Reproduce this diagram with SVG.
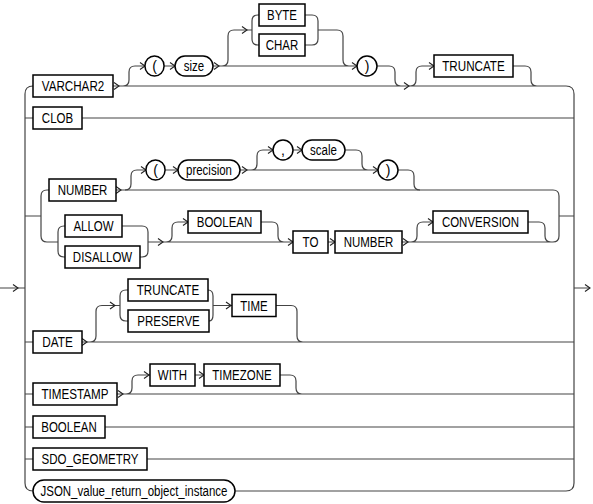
<svg xmlns="http://www.w3.org/2000/svg" xmlns:xlink="http://www.w3.org/1999/xlink" width="593" height="504" viewBox="0 0 593 504">
<style>
.box{fill:#fff;stroke:#000;stroke-width:1.5}
.t{font-family:"Liberation Sans",Arial,sans-serif;font-size:14px;text-anchor:middle;fill:#000}
.ln{fill:none;stroke:#444;stroke-width:1.2}
.ar{fill:none;stroke:#222;stroke-width:1.1}
</style>
<defs>
<path id="a" class="ar" d="M-5,-3.5 L0,0 L-5,3.5"/>
</defs>
<rect width="593" height="504" fill="#fff"/>
<g id="connectors">
<path class="ln" d="M33,86 Q25,86 25,94 V483 Q25,491 33,491 M25,118 H33 M25,216 H41 M25,342 H33 M25,394 H33 M25,427 H33 M25,459 H33 M0,288 H25"/>
<path class="ln" d="M566,86 Q574,86 574,94 V483 Q574,491 566,491 M574,288 H590"/>
<path class="ln" d="M113,86 H566 M123,86 Q129,86 129,80 V72 Q129,66 135,66 H145 M164,66 H175 M213,66 H357 M222,66 Q228,66 228,60 V36 Q228,30 234,30 H252 M259,15 H258 Q252,15 252,21 V39 Q252,45 258,45 H259 M305,15 H312 Q318,15 318,21 V39 Q318,45 312,45 H305 M318,30 H337 Q343,30 343,36 V60 Q343,66 349,66 H357 M377,66 H389 Q395,66 395,72 V80 Q395,86 401,86 M410,86 Q416,86 416,80 V72 Q416,66 422,66 H434 M513,66 H525 Q531,66 531,72 V80 Q531,86 537,86"/>
<path class="ln" d="M82,118 H574"/>
<path class="ln" d="M49,190 H47 Q41,190 41,196 V236 Q41,242 47,242 H58 M65,226 H64 Q58,226 58,232 V251 Q58,257 64,257 H65 M122,226 H142 Q148,226 148,232 V251 Q148,257 142,257 H140 M148,242 H293 M166,242 Q172,242 172,236 V228 Q172,222 178,222 H188 M261,222 H272 Q278,222 278,228 V236 Q278,242 284,242 M328,242 H335 M116,190 H553 Q559,190 559,196 V236 Q559,242 553,242 H402 M559,216 H574 M411,242 Q417,242 417,236 V228 Q417,222 423,222 H433 M528,222 H539 Q545,222 545,228 V236 Q545,242 551,242"/>
<path class="ln" d="M125,190 Q131,190 131,184 V176 Q131,170 137,170 H146 M165,170 H178 M240,170 H378 M251,170 Q257,170 257,164 V156 Q257,150 263,150 H273 M293,150 H302 M345,150 H356 Q362,150 362,156 V164 Q362,170 368,170 H378 M398,170 H408 Q414,170 414,176 V184 Q414,190 420,190"/>
<path class="ln" d="M82,342 H574 M90,342 Q96,342 96,336 V311.5 Q96,305.5 102,305.5 H120 M128,290 H126 Q120,290 120,296 V315 Q120,321 126,321 H128 M208,290 Q213,290 213,296 V315 Q213,321 209,321 M213,305.5 H232 M276,305.5 H291 Q297,305.5 297,311.5 V336 Q297,342 303,342"/>
<path class="ln" d="M117,394 H574 M126,394 Q132,394 132,388 V381 Q132,375 138,375 H150 M195,375 H204 M280,375 H290 Q296,375 296,381 V388 Q296,394 302,394"/>
<path class="ln" d="M105,427 H574 M147,459 H574 M235,491 H566"/>
<use xlink:href="#a" x="18" y="288"/>
<use xlink:href="#a" x="590" y="288"/>
<use xlink:href="#a" x="119" y="86"/>
<use xlink:href="#a" x="145" y="66"/>
<use xlink:href="#a" x="175" y="66"/>
<use xlink:href="#a" x="219" y="66"/>
<use xlink:href="#a" x="247" y="30"/>
<use xlink:href="#a" x="357" y="66"/>
<use xlink:href="#a" x="409" y="86"/>
<use xlink:href="#a" x="434" y="66"/>
<use xlink:href="#a" x="121" y="190"/>
<use xlink:href="#a" x="146" y="170"/>
<use xlink:href="#a" x="178" y="170"/>
<use xlink:href="#a" x="247" y="170"/>
<use xlink:href="#a" x="273" y="150"/>
<use xlink:href="#a" x="302" y="150"/>
<use xlink:href="#a" x="378" y="170"/>
<use xlink:href="#a" x="163" y="242"/>
<use xlink:href="#a" x="188" y="222"/>
<use xlink:href="#a" x="293" y="242"/>
<use xlink:href="#a" x="335" y="242"/>
<use xlink:href="#a" x="408" y="242"/>
<use xlink:href="#a" x="433" y="222"/>
<use xlink:href="#a" x="87" y="342"/>
<use xlink:href="#a" x="115" y="305.5"/>
<use xlink:href="#a" x="231" y="305.5"/>
<use xlink:href="#a" x="123" y="394"/>
<use xlink:href="#a" x="149" y="375"/>
<use xlink:href="#a" x="204" y="375"/>
</g>
<g id="n-varchar2"><rect class="box" x="33" y="75" width="80" height="22"/><text class="t" x="73" y="91" textLength="62.5" lengthAdjust="spacingAndGlyphs">VARCHAR2</text></g>
<g id="n-lparen1"><rect class="box" x="145" y="56" width="19" height="20" rx="9.5"/><text class="t" x="154.5" y="71">(</text></g>
<g id="n-size"><rect class="box" x="175" y="56" width="38" height="20" rx="10"/><text class="t" x="194" y="71" textLength="20.4" lengthAdjust="spacingAndGlyphs">size</text></g>
<g id="n-byte"><rect class="box" x="259" y="4" width="46" height="22"/><text class="t" x="282" y="20" textLength="30" lengthAdjust="spacingAndGlyphs">BYTE</text></g>
<g id="n-char"><rect class="box" x="259" y="34" width="46" height="22"/><text class="t" x="282" y="50" textLength="32.5" lengthAdjust="spacingAndGlyphs">CHAR</text></g>
<g id="n-rparen1"><rect class="box" x="357" y="56" width="20" height="20" rx="10"/><text class="t" x="367" y="71">)</text></g>
<g id="n-truncate1"><rect class="box" x="434" y="55" width="79" height="22"/><text class="t" x="473.5" y="71" textLength="62.5" lengthAdjust="spacingAndGlyphs">TRUNCATE</text></g>
<g id="n-clob"><rect class="box" x="33" y="107" width="49" height="22"/><text class="t" x="57.5" y="123" textLength="31.3" lengthAdjust="spacingAndGlyphs">CLOB</text></g>
<g id="n-number1"><rect class="box" x="49" y="179" width="67" height="22"/><text class="t" x="82.5" y="195" textLength="49.7" lengthAdjust="spacingAndGlyphs">NUMBER</text></g>
<g id="n-lparen2"><rect class="box" x="146" y="160" width="19" height="20" rx="9.5"/><text class="t" x="155.5" y="175">(</text></g>
<g id="n-precision"><rect class="box" x="178" y="160" width="62" height="20" rx="10"/><text class="t" x="209" y="175" textLength="45.9" lengthAdjust="spacingAndGlyphs">precision</text></g>
<g id="n-comma"><rect class="box" x="273" y="140" width="20" height="20" rx="10"/><text class="t" x="283" y="155">,</text></g>
<g id="n-scale"><rect class="box" x="302" y="140" width="43" height="20" rx="10"/><text class="t" x="323.5" y="155" textLength="26.8" lengthAdjust="spacingAndGlyphs">scale</text></g>
<g id="n-rparen2"><rect class="box" x="378" y="160" width="20" height="20" rx="10"/><text class="t" x="388" y="175">)</text></g>
<g id="n-allow"><rect class="box" x="65" y="215" width="57" height="22"/><text class="t" x="93.5" y="231" textLength="40.2" lengthAdjust="spacingAndGlyphs">ALLOW</text></g>
<g id="n-disallow"><rect class="box" x="65" y="246" width="75" height="22"/><text class="t" x="102.5" y="262" textLength="59.3" lengthAdjust="spacingAndGlyphs">DISALLOW</text></g>
<g id="n-boolean1"><rect class="box" x="188" y="211" width="73" height="22"/><text class="t" x="224.5" y="227" textLength="55.5" lengthAdjust="spacingAndGlyphs">BOOLEAN</text></g>
<g id="n-to"><rect class="box" x="293" y="231" width="35" height="22"/><text class="t" x="310.5" y="247" textLength="15.9" lengthAdjust="spacingAndGlyphs">TO</text></g>
<g id="n-number2"><rect class="box" x="335" y="231" width="67" height="22"/><text class="t" x="368.5" y="247" textLength="49.7" lengthAdjust="spacingAndGlyphs">NUMBER</text></g>
<g id="n-conversion"><rect class="box" x="433" y="211" width="95" height="22"/><text class="t" x="480.5" y="227" textLength="77.2" lengthAdjust="spacingAndGlyphs">CONVERSION</text></g>
<g id="n-date"><rect class="box" x="33" y="331" width="49" height="22"/><text class="t" x="57.5" y="347" textLength="30.6" lengthAdjust="spacingAndGlyphs">DATE</text></g>
<g id="n-truncate2"><rect class="box" x="128" y="279" width="80" height="22"/><text class="t" x="168" y="295" textLength="62.5" lengthAdjust="spacingAndGlyphs">TRUNCATE</text></g>
<g id="n-preserve"><rect class="box" x="128" y="310" width="81" height="22"/><text class="t" x="168.5" y="326" textLength="62.5" lengthAdjust="spacingAndGlyphs">PRESERVE</text></g>
<g id="n-time"><rect class="box" x="232" y="294.5" width="44" height="22"/><text class="t" x="254" y="310.5" textLength="27.4" lengthAdjust="spacingAndGlyphs">TIME</text></g>
<g id="n-timestamp"><rect class="box" x="33" y="383" width="84" height="22"/><text class="t" x="75" y="399" textLength="67" lengthAdjust="spacingAndGlyphs">TIMESTAMP</text></g>
<g id="n-with"><rect class="box" x="150" y="364" width="45" height="22"/><text class="t" x="172.5" y="380" textLength="29.3" lengthAdjust="spacingAndGlyphs">WITH</text></g>
<g id="n-timezone"><rect class="box" x="204" y="364" width="76" height="22"/><text class="t" x="242" y="380" textLength="59.3" lengthAdjust="spacingAndGlyphs">TIMEZONE</text></g>
<g id="n-boolean2"><rect class="box" x="33" y="416" width="72" height="22"/><text class="t" x="69" y="432" textLength="55.5" lengthAdjust="spacingAndGlyphs">BOOLEAN</text></g>
<g id="n-sdo"><rect class="box" x="33" y="448" width="114" height="22"/><text class="t" x="90" y="464" textLength="97" lengthAdjust="spacingAndGlyphs">SDO_GEOMETRY</text></g>
<g id="n-json"><rect class="box" x="33" y="480" width="202" height="22" rx="11"/><text class="t" x="134" y="496" textLength="187" lengthAdjust="spacingAndGlyphs">JSON_value_return_object_instance</text></g>
</svg>
